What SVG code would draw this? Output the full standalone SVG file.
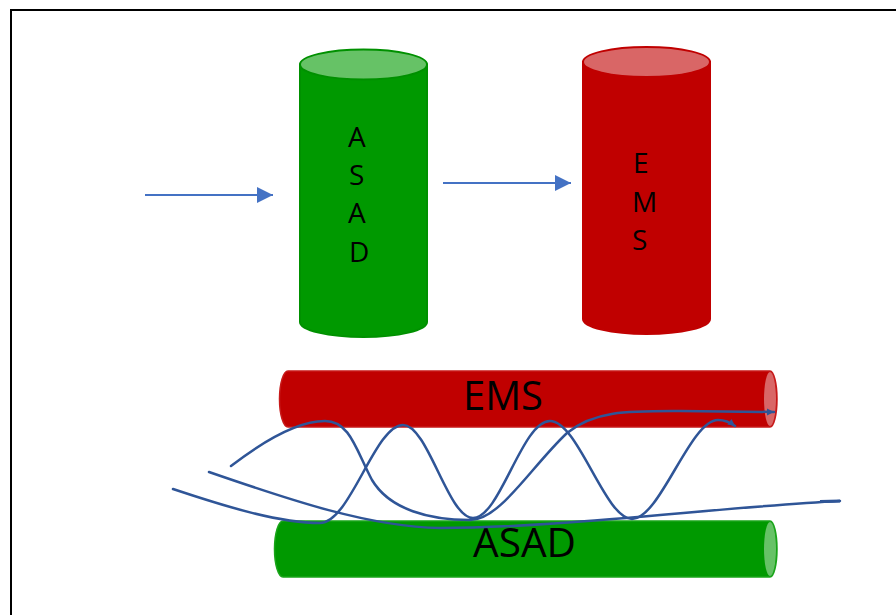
<svg xmlns="http://www.w3.org/2000/svg" width="896" height="615" viewBox="0 0 896 615">
<style>
.gbody{fill:#009900;stroke:#009000;stroke-width:2}
.gtop{fill:#66c266;stroke:#009000;stroke-width:2}
.rbody{fill:#c00000;stroke:#c00000;stroke-width:2}
.rtop{fill:#d96666;stroke:#c00000;stroke-width:2}
.hg{fill:#009900;stroke:#1aa51a;stroke-width:1.5}
.hr{fill:#c00000;stroke:#c71a1a;stroke-width:1.5}
.vt{font-family:"Open Sans","Liberation Sans",sans-serif;font-size:28px;fill:#000}
.ht{font-family:"Open Sans","Liberation Sans",sans-serif;font-size:40px;fill:#000}
.arr{stroke:#4472c4;stroke-width:2.2;fill:none}
.wave{stroke:#2f5597;stroke-width:2.5;fill:none;stroke-linecap:round}
</style>
<defs>
<marker id="ah" markerUnits="userSpaceOnUse" markerWidth="18" markerHeight="18" refX="16" refY="8" orient="auto">
<path d="M0,0 L16,8 L0,16 Z" fill="#4472c4"/>
</marker>
<marker id="wh" markerUnits="userSpaceOnUse" markerWidth="10" markerHeight="10" refX="7" refY="4" orient="auto">
<path d="M0,0.5 L7,4 L0,7.5 Z" fill="#2f5597"/>
</marker>
<marker id="wf" markerUnits="userSpaceOnUse" markerWidth="24" markerHeight="8" refX="20" refY="4" orient="auto">
<path d="M0,2 L20,2.6 L20,5.4 L0,5 Z" fill="#2f5597"/>
</marker>
</defs>
<rect width="896" height="615" fill="#ffffff"/>
<rect x="11" y="10" width="900" height="620" fill="none" stroke="#000" stroke-width="2"/>

<g id="asad-cylinder">
<path class="gbody" d="M300,64.5 L300,322 A63.5,15 0 0 0 427,322 L427,64.5 Z"/>
<ellipse class="gtop" cx="363.5" cy="64.5" rx="63.5" ry="15"/>
<text class="vt" x="348" y="147">A</text>
<text class="vt" x="349" y="185">S</text>
<text class="vt" x="348" y="223">A</text>
<text class="vt" x="349" y="262">D</text>
</g>

<g id="ems-cylinder">
<path class="rbody" d="M583,62 L583,319 A63.5,15 0 0 0 710,319 L710,62 Z"/>
<ellipse class="rtop" cx="646.5" cy="62" rx="63.5" ry="15"/>
<text class="vt" x="633" y="173">E</text>
<text class="vt" x="632" y="212">M</text>
<text class="vt" x="632" y="250">S</text>
</g>

<g id="ems-bar">
<path class="hr" d="M288,371 L770,371 A7,28 0 0 1 770,427 L288,427 A8.5,28 0 0 1 288,371 Z"/>
<ellipse cx="770" cy="399" rx="6" ry="27" fill="#d96666"/>
<text class="ht" x="463" y="410" textLength="80" lengthAdjust="spacingAndGlyphs">EMS</text>
</g>

<g id="asad-bar">
<path class="hg" d="M283,521 L770,521 A7,28 0 0 1 770,577 L283,577 A8.5,28 0 0 1 283,521 Z"/>
<ellipse cx="770" cy="549" rx="6" ry="27" fill="#66c266"/>
<text class="ht" x="473" y="557" textLength="103" lengthAdjust="spacingAndGlyphs">ASAD</text>
</g>

<g id="connectors">
<line class="arr" x1="145" y1="195" x2="273" y2="195" marker-end="url(#ah)"/>
<line class="arr" x1="443" y1="183" x2="571" y2="183" marker-end="url(#ah)"/>
<path class="wave" d="M173,489 C230,508 280,523 320,523 C350,523 375,425 403,425 C428,425 448,518 473,518 C500,518 522,421 550,421 C578,421 605,519 632,519 C660,519 690,420 718,420 C726,420 731,423 735,426" marker-end="url(#wh)"/>
<path class="wave" d="M231,466 C270,436 300,421 325,421 C350,421 356,450 372,480 C390,510 430,520 470,520 C500,520 530,468 567,433 C595,410 630,411 680,411 L774,412" marker-end="url(#wh)"/>
<path class="wave" d="M209,472 C290,500 370,527 440,528 C560,528 720,507 840,501" marker-end="url(#wf)"/>
</g>
</svg>
